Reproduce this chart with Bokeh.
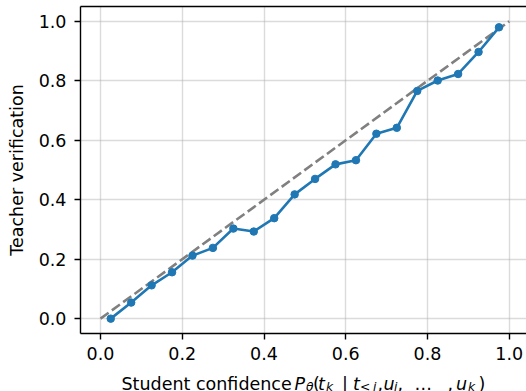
from bokeh.plotting import figure
from bokeh.models import Range1d, FixedTicker, LinearAxis, ColumnDataSource
from bokeh.layouts import column
from bokeh.core.properties import value
from bokeh.embed import file_html
from bokeh.resources import INLINE

# ---- data ----
student_conf = [0.025, 0.075, 0.125, 0.175, 0.225, 0.275, 0.325, 0.375, 0.425, 0.475,
                0.525, 0.575, 0.625, 0.675, 0.725, 0.775, 0.825, 0.875, 0.925, 0.975]
teacher_verif = [0.000, 0.054, 0.112, 0.156, 0.212, 0.238, 0.303, 0.293, 0.338, 0.418,
                 0.470, 0.519, 0.533, 0.622, 0.642, 0.766, 0.801, 0.823, 0.897, 0.980]
diag_x = [0.0, 1.0]
diag_y = [0.0, 1.0]
tick_values = [0.0, 0.2, 0.4, 0.6, 0.8, 1.0]
tick_labels = ["0.0", "0.2", "0.4", "0.6", "0.8", "1.0"]
y_title = "Teacher verification"
# x-axis title pieces: (text, italic, subscript)
x_title_parts = [
    ("Student confidence", False, False),
    ("P", True, False), ("θ", True, True), ("(", False, False),
    ("t", True, False), ("k", True, True), ("|", False, False),
    ("t", True, False), ("<", False, True), ("i", True, True), (",", False, False),
    ("u", True, False), ("i", True, True), (",", False, False),
    ("…", False, False), (",", False, False),
    ("u", True, False), ("k", True, True), (")", False, False),
]
# horizontal placement of each piece (page px, layout only)
x_title_pos = [121, 294, 305.5, 312.5, 317.5, 325.5, 341.5, 352.5, 359.5, 372.5, 377,
               383, 393.5, 397, 414, 447, 455.5, 467.5, 478]

FONT = "DejaVu Sans"
FS = "17.5px"
FS_SUB = "12.3px"
W = 526
LEFT = 80
H_MAIN = 368
H_LAB = 23

x_start, x_end = -0.049, 1.0423
y_start, y_end = -0.05, 1.05

p = figure(width=W, height=H_MAIN, output_backend="svg", toolbar_location=None,
           x_range=Range1d(x_start, x_end), y_range=Range1d(y_start, y_end),
           min_border_left=LEFT, min_border_right=0, min_border_top=6, min_border_bottom=35)
p.outline_line_color = None
p.background_fill_color = "white"
p.border_fill_color = "white"

for ax in (p.xaxis[0], p.yaxis[0]):
    ax.ticker = FixedTicker(ticks=tick_values)
    ax.major_label_overrides = {v: s for v, s in zip(tick_values, tick_labels)}
    ax.minor_tick_line_color = None
    ax.major_tick_in = 0
    ax.major_tick_out = 6
    ax.major_tick_line_width = 1.4
    ax.major_tick_line_color = "black"
    ax.axis_line_color = "black"
    ax.axis_line_width = 1.4
    ax.major_label_text_font = FONT
    ax.major_label_text_font_size = FS
    ax.major_label_text_color = "black"
    ax.axis_label_text_font = FONT
    ax.axis_label_text_font_size = FS
    ax.axis_label_text_font_style = "normal"
    ax.axis_label_text_color = "black"

p.xaxis[0].major_label_standoff = 7
p.yaxis[0].major_label_standoff = 8
p.yaxis[0].axis_label = y_title
p.yaxis[0].axis_label_standoff = 9

top_axis = LinearAxis(ticker=FixedTicker(ticks=[]), major_label_text_font_size="0px",
                      major_tick_out=0, major_tick_in=0, minor_tick_out=0, minor_tick_in=0,
                      axis_line_color="black", axis_line_width=1.4, major_label_standoff=0)
p.add_layout(top_axis, "above")

for g in (p.xgrid[0], p.ygrid[0]):
    g.ticker = FixedTicker(ticks=tick_values)
    g.grid_line_color = "#b0b0b0"
    g.grid_line_alpha = 0.45
    g.grid_line_width = 1.4

p.line(diag_x, diag_y, line_color="gray", line_width=2.6, line_dash="10 4")
p.line(student_conf, teacher_verif, line_color="#1f77b4", line_width=2.6)
p.scatter(student_conf, teacher_verif, size=7.5, fill_color="#1f77b4", line_color="#1f77b4")

# ---- x-axis title strip (math-like label with subscripts) ----
lab = figure(width=W, height=H_LAB, output_backend="svg", toolbar_location=None,
             x_axis_type=None, y_axis_type=None,
             x_range=Range1d(LEFT, W), y_range=Range1d(0, H_LAB),
             min_border_left=LEFT, min_border_right=0, min_border_top=0, min_border_bottom=0)
lab.grid.visible = False
lab.outline_line_color = None
lab.background_fill_color = "white"
lab.border_fill_color = "white"
src = ColumnDataSource(dict(
    x=x_title_pos,
    y=[4.8 if sub else 8.0 for _, _, sub in x_title_parts],
    text=[t for t, _, _ in x_title_parts],
    size=[FS_SUB if sub else FS for _, _, sub in x_title_parts],
    style=["italic" if it else "normal" for _, it, _ in x_title_parts],
))
lab.text(x="x", y="y", text="text", source=src, text_font=value(FONT),
         text_font_size="size", text_font_style="style", text_color="black",
         text_align="left", text_baseline="alphabetic")

open("out.html", "w").write(file_html(column(p, lab, spacing=0), INLINE))
